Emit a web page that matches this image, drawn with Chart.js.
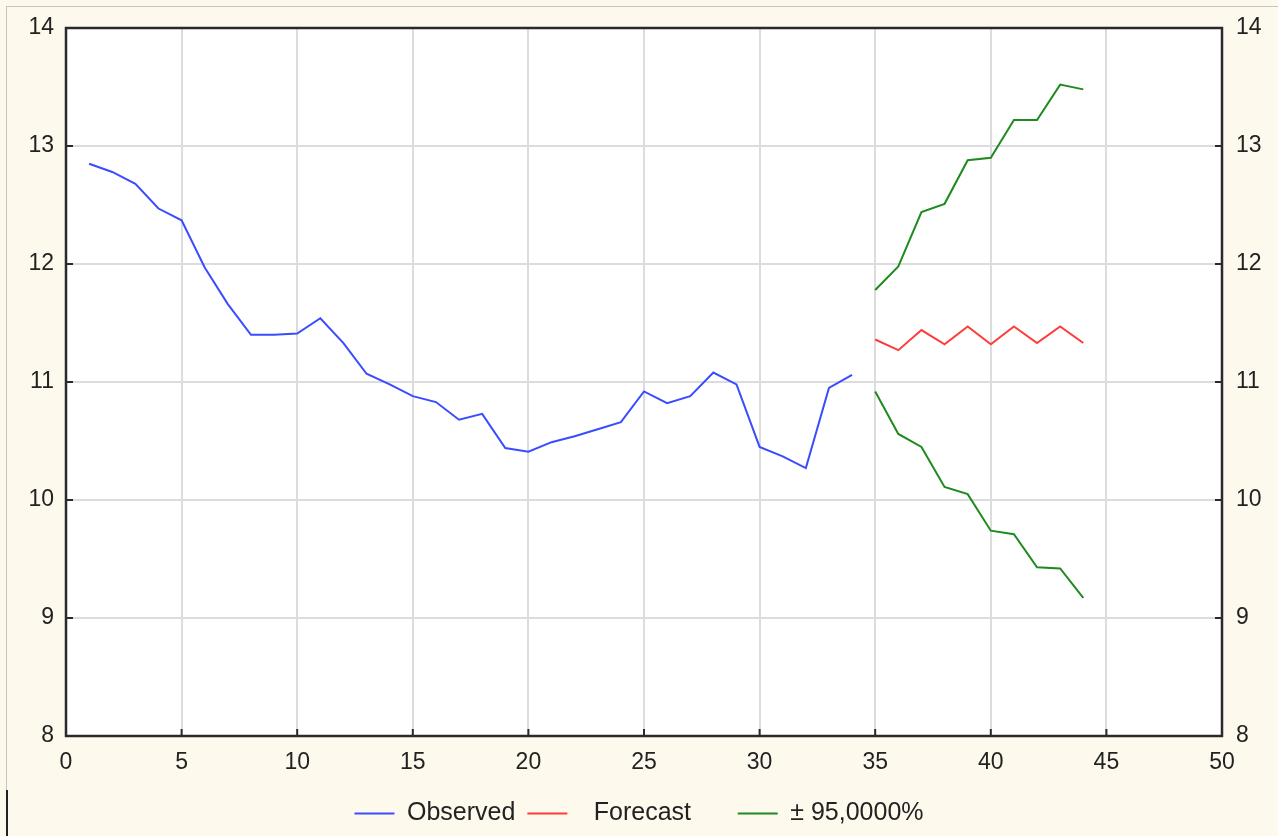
<!DOCTYPE html>
<html>
<head>
<meta charset="utf-8">
<script src="https://cdn.jsdelivr.net/npm/chart.js@4"></script>
<style>
  html, body { margin: 0; padding: 0; background: #fef9ed; }
  #wrap { position: relative; width: 1278px; height: 836px; overflow: hidden; }
  #frame { position: absolute; left: 6px; top: 6px; width: 1290px; height: 784px; border-left: 1px solid #c4c4c4; border-top: 1px solid #c4c4c4; }
  #mark { position: absolute; left: 6px; top: 790px; width: 2px; height: 46px; background: #222; }
  canvas { position: absolute; left: 0; top: 0; }
</style>
</head>
<body>
<div id="wrap">
  <div id="frame"></div>
  <div id="mark"></div>
  <canvas id="chart" width="1278" height="836"></canvas>
</div>
<script>
// observed series, x = 1..34
const obsX = [1, 2, 3, 4, 5, 6, 7, 8, 9, 10, 11, 12, 13, 14, 15, 16, 17, 18, 19, 20, 21, 22, 23, 24, 25, 26, 27, 28, 29, 30, 31, 32, 33, 34];
const observed = [12.85, 12.78, 12.68, 12.47, 12.37, 11.97, 11.66, 11.40, 11.40, 11.41, 11.54, 11.33, 11.07, 10.98, 10.88, 10.83, 10.68, 10.73, 10.44, 10.41, 10.49, 10.54, 10.60, 10.66, 10.92, 10.82, 10.88, 11.08, 10.98, 10.45, 10.37, 10.27, 10.95, 11.06];

// forecast and 95% band, x = 35..44
const fcX = [35, 36, 37, 38, 39, 40, 41, 42, 43, 44];
const forecast = [11.36, 11.27, 11.44, 11.32, 11.47, 11.32, 11.47, 11.33, 11.47, 11.33];
const upper = [11.78, 11.98, 12.44, 12.51, 12.88, 12.90, 13.22, 13.22, 13.52, 13.48];
const lower = [10.92, 10.56, 10.45, 10.11, 10.05, 9.74, 9.71, 9.43, 9.42, 9.17];

const labels = ['Observed', 'Forecast', '± 95,0000%'];
const colors = ['#3a4cff', '#ff3b3b', '#1f8a1f'];

const pts = (xs, ys) => xs.map((x, i) => ({ x: x, y: ys[i] }));

const font = { family: '"Liberation Sans", Arial, sans-serif', size: 23 };
const legendFont = { family: '"Liberation Sans", Arial, sans-serif', size: 25 };

// white plot area, black frame and short inward ticks
const plotFrame = {
    id: 'plotFrame',
    beforeDraw(chart) {
        const a = chart.chartArea, ctx = chart.ctx;
        ctx.save();
        ctx.fillStyle = '#ffffff';
        ctx.fillRect(a.left, a.top, a.right - a.left, a.bottom - a.top);
        ctx.restore();
    },
    afterDraw(chart) {
        const a = chart.chartArea, ctx = chart.ctx;
        ctx.save();
        ctx.strokeStyle = '#2a2a2a';
        ctx.lineWidth = 2;
        ctx.beginPath();
        chart.scales.x.ticks.forEach(t => {
            const px = chart.scales.x.getPixelForValue(t.value);
            ctx.moveTo(px, a.bottom);
            ctx.lineTo(px, a.bottom - 7);
        });
        chart.scales.y.ticks.forEach(t => {
            const py = chart.scales.y.getPixelForValue(t.value);
            ctx.moveTo(a.left, py);
            ctx.lineTo(a.left + 7, py);
            ctx.moveTo(a.right, py);
            ctx.lineTo(a.right - 7, py);
        });
        ctx.stroke();
        ctx.lineWidth = 2.5;
        ctx.strokeRect(a.left, a.top, a.right - a.left, a.bottom - a.top);
        ctx.restore();
    }
};

// spacing of the legend entries as in the original
const legendText = ['Observed', '  Forecast     ', '± 95,0000%'];

new Chart(document.getElementById('chart').getContext('2d'), {
    type: 'line',
    data: {
        datasets: [
            { label: labels[0], data: pts(obsX, observed), borderColor: colors[0], borderWidth: 2 },
            { label: labels[1], data: pts(fcX, forecast), borderColor: colors[1], borderWidth: 2 },
            { label: labels[2], data: pts(fcX, upper), borderColor: colors[2], borderWidth: 2 },
            { label: '', data: pts(fcX, lower), borderColor: colors[2], borderWidth: 2 }
        ]
    },
    options: {
        responsive: false,
        animation: false,
        elements: { point: { radius: 0 }, line: { tension: 0 } },
        layout: { padding: { top: 28, left: 0, right: 0, bottom: 0 } },
        scales: {
            x: {
                type: 'linear', min: 0, max: 50,
                afterFit: s => { s.height = 53; },
                ticks: { stepSize: 5, color: '#222', font: font, padding: 13, maxRotation: 0 },
                grid: { color: '#dcdcdc', lineWidth: 2, drawTicks: false },
                border: { display: false }
            },
            y: {
                type: 'linear', position: 'left', min: 8, max: 14,
                afterFit: s => { s.width = 66; },
                ticks: { stepSize: 1, color: '#222', font: font, padding: 12 },
                grid: { color: '#dcdcdc', lineWidth: 2, drawTicks: false },
                border: { display: false }
            },
            y2: {
                type: 'linear', position: 'right', min: 8, max: 14,
                afterFit: s => { s.width = 56; },
                ticks: { stepSize: 1, color: '#222', font: font, padding: 14 },
                grid: { display: false, drawTicks: false },
                border: { display: false }
            }
        },
        plugins: {
            tooltip: { enabled: false },
            legend: {
                position: 'bottom',
                labels: {
                    color: '#222',
                    font: legendFont,
                    usePointStyle: true,
                    pointStyle: 'line',
                    pointStyleWidth: 40,
                    padding: 12,
                    filter: item => item.text !== '',
                    generateLabels: chart => Chart.defaults.plugins.legend.labels.generateLabels(chart)
                        .map(item => {
                            const k = labels.indexOf(item.text);
                            if (k >= 0) item.text = legendText[k];
                            return item;
                        })
                }
            }
        }
    },
    plugins: [plotFrame]
});
</script>
</body>
</html>
